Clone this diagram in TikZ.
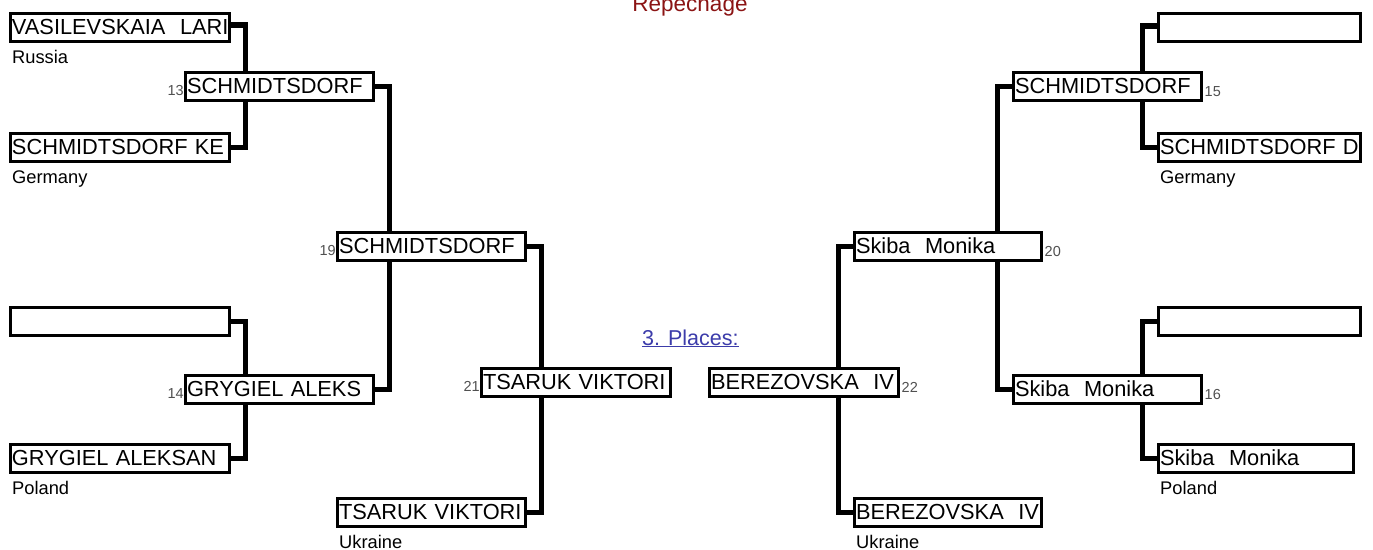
\documentclass[tikz,border=0pt]{standalone}
\usepackage{fontspec}
\setmainfont{Liberation Sans}
\usetikzlibrary{calc}
\definecolor{numgray}{HTML}{505050}
\definecolor{placeblue}{HTML}{3C3CAA}
\definecolor{repred}{HTML}{8B1414}
\newcommand{\namefont}{\fontsize{21.8pt}{24pt}\selectfont}
\newcommand{\ctryfont}{\fontsize{18.3pt}{20pt}\selectfont}
\newcommand{\numfont}{\fontsize{14.5pt}{16pt}\selectfont}
\begin{document}
\begin{tikzpicture}[x=1pt,y=-1pt,
  box/.style={draw, line width=3pt, inner xsep=1.5pt, inner ysep=0pt, outer sep=0pt,
    text height=20.5pt, text depth=7.5pt, align=left, anchor=north west, font=\namefont},
  conn/.style={line width=5.5pt},
  country/.style={inner sep=0pt, anchor=base west, font=\ctryfont},
  num/.style={inner sep=0pt, font=\numfont, text=numgray}]
\useasboundingbox (0,0) rectangle (1373,549);

% left side
\node[box, text width=216pt] (L1) at (10.5,13.5) {\mbox{VASILEVSKAIA\ \ LARI}};
\node[box, text width=216pt] (L2) at (10.5,133.5) {\mbox{SCHMIDTSDORF KE}};
\node[box, text width=216pt] (L3) at (10.5,307.5) {};
\node[box, text width=216pt] (L4) at (10.5,444.5) {\mbox{GRYGIEL ALEKSAN}};
\node[box, text width=185pt] (m13) at (185.5,72.5) {\mbox{SCHMIDTSDORF}};
\node[box, text width=185pt] (m14) at (185.5,375.5) {\mbox{GRYGIEL ALEKS}};
\node[box, text width=185pt] (m19) at (337.5,232.5) {\mbox{SCHMIDTSDORF}};
\node[box, text width=186pt] (m21) at (481.5,368.5) {\mbox{TSARUK VIKTORI}};
\node[box, text width=185pt] (L5) at (337.5,498.5) {\mbox{TSARUK VIKTORI}};

% right side
\node[box, text width=186pt] (m22) at (709.5,368.5) {\mbox{BEREZOVSKA\ \ IV}};
\node[box, text width=184pt] (R5) at (854.5,498.5) {\mbox{BEREZOVSKA\ \ IV}};
\node[box, text width=184pt] (m20) at (854.5,232.5) {\mbox{Skiba\ \ Monika}};
\node[box, text width=185pt] (m15) at (1013.5,72.5) {\mbox{SCHMIDTSDORF}};
\node[box, text width=185pt] (m16) at (1013.5,375.5) {\mbox{Skiba\ \ Monika}};
\node[box, text width=199pt] (R1) at (1158.5,13.5) {};
\node[box, text width=199pt] (R2) at (1158.5,133.5) {\mbox{SCHMIDTSDORF D}};
\node[box, text width=199pt] (R3) at (1158.5,307.5) {};
\node[box, text width=192pt] (R4) at (1158.5,444.5) {\mbox{Skiba\ \ Monika}};

% countries
\node[country] (cL1) at ([xshift=1.5pt,yshift=-21.5pt]L1.south west) {Russia};
\node[country] (cL2) at ([xshift=1.5pt,yshift=-21.5pt]L2.south west) {Germany};
\node[country] (cL4) at ([xshift=1.5pt,yshift=-21.5pt]L4.south west) {Poland};
\node[country] (cL5) at ([xshift=1.5pt,yshift=-21.5pt]L5.south west) {Ukraine};
\node[country] (cR5) at ([xshift=1.5pt,yshift=-21.5pt]R5.south west) {Ukraine};
\node[country] (cR2) at ([xshift=1.5pt,yshift=-21.5pt]R2.south west) {Germany};
\node[country] (cR4) at ([xshift=1.5pt,yshift=-21.5pt]R4.south west) {Poland};

% bout numbers
\node[num, anchor=base east] (k13) at ([xshift=-1.5pt,yshift=-22.5pt]m13.north west) {13};
\node[num, anchor=base east] (k14) at ([xshift=-1.5pt,yshift=-22.5pt]m14.north west) {14};
\node[num, anchor=base east] (k19) at ([xshift=-1.5pt,yshift=-22.5pt]m19.north west) {19};
\node[num, anchor=base east] (k21) at ([xshift=-1.5pt,yshift=-22.5pt]m21.north west) {21};
\node[num, anchor=base west] (k15) at ([xshift=3pt,yshift=-24pt]m15.north east) {15};
\node[num, anchor=base west] (k16) at ([xshift=3pt,yshift=-24pt]m16.north east) {16};
\node[num, anchor=base west] (k20) at ([xshift=3pt,yshift=-24pt]m20.north east) {20};
\node[num, anchor=base west] (k22) at ([xshift=3pt,yshift=-24pt]m22.north east) {22};

% titles
\node[inner sep=0pt, anchor=base, font=\fontsize{22.5pt}{24pt}\selectfont, text=repred] (rep) at (690,11) {Repechage};
\node[inner sep=0pt, anchor=base west, font=\fontsize{21.5pt}{24pt}\selectfont, text=placeblue] (pl) at (642,345) {\underline{3. Places:}};

% connectors left
\draw[conn] ([yshift=2.5pt]L1.east) -| ([xshift=16pt]L1.east |- m13.north);
\draw[conn] (L2.east) -| ([xshift=16pt]L2.east |- m13.south);
\draw[conn] (L3.east) -| ([xshift=16pt]L3.east |- m14.north);
\draw[conn] (L4.east) -| ([xshift=16pt]L4.east |- m14.south);
\draw[conn] (m13.east) -| ([xshift=16pt]m13.east |- m19.north);
\draw[conn] (m14.east) -| ([xshift=16pt]m14.east |- m19.south);
\draw[conn] (m19.east) -| ([xshift=16pt]m19.east |- m21.north);
\draw[conn] (L5.east) -| ([xshift=16pt]L5.east |- m21.south);

% connectors right
\draw[conn] ([yshift=1.5pt]R1.west) -| ([xshift=-16pt]R1.west |- m15.north);
\draw[conn] (R2.west) -| ([xshift=-16pt]R2.west |- m15.south);
\draw[conn] (R3.west) -| ([xshift=-16pt]R3.west |- m16.north);
\draw[conn] (R4.west) -| ([xshift=-16pt]R4.west |- m16.south);
\draw[conn] (m15.west) -| ([xshift=-16pt]m15.west |- m20.north);
\draw[conn] (m16.west) -| ([xshift=-16pt]m16.west |- m20.south);
\draw[conn] (m20.west) -| ([xshift=-16pt]m20.west |- m22.north);
\draw[conn] (R5.west) -| ([xshift=-16pt]R5.west |- m22.south);
\end{tikzpicture}
\end{document}
